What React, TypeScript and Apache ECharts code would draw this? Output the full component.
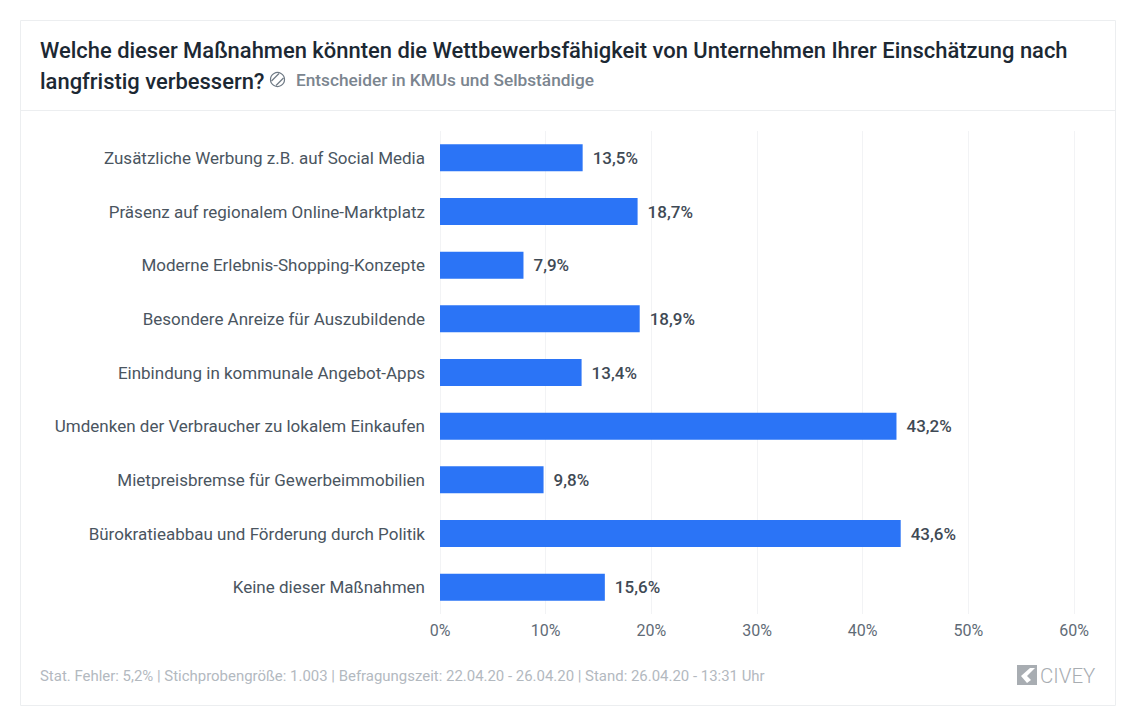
import React, { useEffect, useRef } from "react";
import * as echarts from "echarts";

const categories = [
  "Zusätzliche Werbung z.B. auf Social Media",
  "Präsenz auf regionalem Online-Marktplatz",
  "Moderne Erlebnis-Shopping-Konzepte",
  "Besondere Anreize für Auszubildende",
  "Einbindung in kommunale Angebot-Apps",
  "Umdenken der Verbraucher zu lokalem Einkaufen",
  "Mietpreisbremse für Gewerbeimmobilien",
  "Bürokratieabbau und Förderung durch Politik",
  "Keine dieser Maßnahmen",
];
const values = [13.5, 18.7, 7.9, 18.9, 13.4, 43.2, 9.8, 43.6, 15.6];
const titleLine1 = "Welche dieser Maßnahmen könnten die Wettbewerbsfähigkeit von Unternehmen Ihrer Einschätzung nach";
const titleLine2 = "langfristig verbessern?";
const subtitle = "Entscheider in KMUs und Selbständige";
const footer = "Stat. Fehler: 5,2% | Stichprobengröße: 1.003 | Befragungszeit: 22.04.20 - 26.04.20 | Stand: 26.04.20 - 13:31 Uhr";
const brand = "CIVEY";
const FONT = "Roboto";

export default function App() {
  const ref = useRef<HTMLDivElement>(null);
  useEffect(() => {
    document.body.style.margin = "0";
    const chart = echarts.init(ref.current!, null, { renderer: "svg" });
    chart.setOption({
      animation: false,
      backgroundColor: "#ffffff",
      grid: { left: 440, top: 131, width: 634, height: 483, containLabel: false },
      xAxis: {
        type: "value",
        min: 0,
        max: 60,
        interval: 10,
        axisLine: { show: false },
        axisTick: { show: false },
        splitLine: { show: true, lineStyle: { color: "#f2f3f5", width: 1 } },
        axisLabel: {
          formatter: "{value}%",
          color: "#5f6b76",
          fontFamily: FONT,
          fontSize: 16,
          margin: 8,
        },
      },
      yAxis: {
        type: "category",
        inverse: true,
        data: categories,
        axisLine: { show: false },
        axisTick: { show: false },
        axisLabel: { color: "#4a555f", fontFamily: FONT, fontSize: 17, margin: 15 },
      },
      series: [
        {
          type: "bar",
          data: values,
          barWidth: 27,
          itemStyle: { color: "#2b74f6" },
          label: {
            show: true,
            position: "right",
            distance: 10,
            formatter: (p: any) => p.value.toFixed(1).replace(".", ",") + "%",
            color: "#3f4a55",
            fontFamily: FONT,
            fontWeight: 500,
            fontSize: 17,
          },
        },
      ],
      graphic: [
        {
          type: "rect",
          silent: true,
          z: -1,
          shape: { x: 20.5, y: 20.5, width: 1095, height: 685 },
          style: { fill: "#ffffff", stroke: "#eceef0", lineWidth: 1 },
        },
        {
          type: "line",
          silent: true,
          shape: { x1: 20, y1: 110.5, x2: 1116, y2: 110.5 },
          style: { stroke: "#eceef0", lineWidth: 1 },
        },
        {
          type: "text",
          x: 40,
          y: 50,
          style: { text: titleLine1, fill: "#1c2833", font: `500 21.95px ${FONT}`, verticalAlign: "middle" },
        },
        {
          type: "text",
          x: 40,
          y: 81,
          style: { text: titleLine2, fill: "#1c2833", font: `500 21.95px ${FONT}`, verticalAlign: "middle" },
        },
        {
          type: "circle",
          silent: true,
          shape: { cx: 277.5, cy: 79.5, r: 7 },
          style: { fill: "none", stroke: "#6f7a85", lineWidth: 1.2 },
        },
        {
          type: "line",
          silent: true,
          shape: { x1: 271.5, y1: 81, x2: 279, y2: 73.5 },
          style: { stroke: "#6f7a85", lineWidth: 1.2 },
        },
        {
          type: "line",
          silent: true,
          shape: { x1: 276, y1: 85.5, x2: 283.5, y2: 78 },
          style: { stroke: "#6f7a85", lineWidth: 1.2 },
        },
        {
          type: "text",
          x: 296,
          y: 80,
          style: { text: subtitle, fill: "#7b858f", font: `500 17.25px ${FONT}`, verticalAlign: "middle" },
        },
        {
          type: "text",
          x: 40,
          y: 676,
          style: { text: footer, fill: "#b3b9bf", font: `14.95px ${FONT}`, verticalAlign: "middle" },
        },
        {
          type: "rect",
          silent: true,
          shape: { x: 1017, y: 665, width: 20, height: 20 },
          style: { fill: "#a8adb2" },
        },
        {
          type: "polygon",
          silent: true,
          shape: { points: [[1030, 668], [1035, 668], [1027, 676], [1031, 680], [1027, 683], [1021, 676]] },
          style: { fill: "#ffffff" },
        },
        {
          type: "text",
          x: 1040,
          y: 676,
          style: { text: brand, fill: "#a8adb2", font: `300 20.5px ${FONT}`, verticalAlign: "middle" },
        },
      ],
    });
    return () => chart.dispose();
  }, []);
  return <div ref={ref} style={{ position: "absolute", left: 0, top: 0, width: 1134, height: 719 }} />;
}
